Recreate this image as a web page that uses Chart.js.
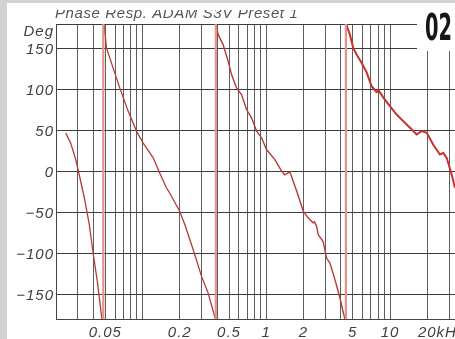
<!DOCTYPE html>
<html>
<head>
<meta charset="utf-8">
<script src="https://cdn.jsdelivr.net/npm/chart.js@4.4.1/dist/chart.umd.min.js"></script>
<style>
  html, body { margin: 0; padding: 0; background: #fff; }
  canvas { display: block; }
</style>
</head>
<body>
<canvas id="phaseChart" width="455" height="339"></canvas>
<script>
// ================= DATA =================
// phase response, kHz vs degrees, one array pair per wrapped branch
const seg1Freq  = [0.0240, 0.0263, 0.0289, 0.0304, 0.0337, 0.0370, 0.0399, 0.0433, 0.0470];
const seg1Phase = [46.8, 34.6, 14.3, 0, -30.5, -62.9, -99.5, -136, -180];

const seg2Freq  = [0.0488, 0.0512, 0.0578, 0.0655, 0.0765, 0.0894, 0.101, 0.122, 0.138, 0.156, 0.166, 0.200, 0.220, 0.257, 0.300, 0.339, 0.388];
const seg2Phase = [180, 150.9, 126.5, 102.1, 73.7, 49.3, 35, 16.7, -2, -19.9, -26.3, -48.8, -65, -95.5, -128, -148.3, -180];

const seg3Freq  = [0.391, 0.409, 0.448, 0.492, 0.524, 0.575, 0.631, 0.693, 0.760, 0.835, 0.916, 1.005, 1.174, 1.33, 1.41, 1.55, 1.76, 1.99, 2.18, 2.39, 2.45, 2.55, 2.63, 2.88, 3.07, 3.27, 3.59, 3.94, 4.14, 4.32];
const seg3Phase = [180, 167, 154.9, 134.6, 118.3, 102, 93.9, 75.6, 65.5, 49.3, 41.1, 26.8, 14.6, 0.5, -4, -0.4, -23.9, -48.3, -56.5, -62.6, -61.5, -66.6, -77.2, -85.4, -105.6, -111.7, -132, -154.4, -168.7, -180];

const seg4Freq  = [4.42, 4.74, 5.04, 5.37, 5.89, 6.47, 7.10, 7.79, 8.10, 8.81, 9.98, 11.3, 12.8, 14.5, 16.4, 18.0, 19.8, 22.3, 25.3, 26.9, 28.7, 31.5, 33.5];
const seg4Phase = [180, 167, 150.9, 142.7, 132.6, 121, 104, 97, 99, 90.5, 79.8, 69.5, 61.5, 53.3, 45.1, 49.3, 47.2, 32.9, 20.7, 22.8, 16.7, -3.7, -19.9];

// frequencies where the phase wraps from -180 to +180
const wrapFreqs = [0.0482, 0.3914, 4.40];

// axis ticks
const xGrid = [0.02, 0.03, 0.04, 0.05, 0.06, 0.07, 0.08, 0.09,
               0.1, 0.2, 0.3, 0.4, 0.5, 0.6, 0.7, 0.8, 0.9,
               1, 2, 3, 4, 5, 6, 7, 8, 9, 10, 20, 30];
const xLabelVals = [0.05, 0.2, 0.5, 1, 2, 5, 10, 20];
const xLabelText = ['0.05', '0.2', '0.5', '1', '2', '5', '10', '20kHz'];
const yGrid = [-180, -150, -100, -50, 0, 50, 100, 150, 180];
const yLabelVals = [150, 100, 50, 0, -50, -100, -150];

const titleText = 'Phase Resp. ADAM S3V Preset 1';
const badgeText = '02';

// ================= HELPERS =================
const toPoints = (fs, ps) => fs.map((f, i) => ({ x: f, y: ps[i] }));

const curveColor = '#b63c33';
const wrapColor = '#e7918a';

const datasets = [];
wrapFreqs.forEach(f => {
    datasets.push({
        data: [{ x: f, y: -180 }, { x: f, y: 180 }],
        borderColor: wrapColor, borderWidth: 2.2
    });
});
datasets.push({ data: toPoints(seg1Freq, seg1Phase), borderColor: curveColor, borderWidth: 1.3 });
datasets.push({ data: toPoints(seg2Freq, seg2Phase), borderColor: curveColor, borderWidth: 1.3 });
datasets.push({ data: toPoints(seg3Freq, seg3Phase), borderColor: curveColor, borderWidth: 1.4 });
datasets.push({ data: toPoints(seg4Freq, seg4Phase), borderColor: '#c8322b', borderWidth: 2 });

const labelFont = 'italic 15px "Liberation Sans", Arial, sans-serif';

const decorPlugin = {
    id: 'decor',
    beforeDraw(chart) {
        const ctx = chart.ctx;
        ctx.save();
        ctx.fillStyle = '#ffffff';
        ctx.fillRect(0, 0, chart.width, chart.height);
        ctx.restore();
    },
    afterDraw(chart) {
        const ctx = chart.ctx;
        const xs = chart.scales.x, ys = chart.scales.y;
        ctx.save();
        ctx.fillStyle = '#3f3f3f';
        ctx.font = labelFont;
        ctx.letterSpacing = '1px';

        // y labels
        ctx.textAlign = 'right';
        ctx.textBaseline = 'middle';
        yLabelVals.forEach(v => {
            const t = String(v).replace('-', '\u2212');
            ctx.fillText(t, 54, ys.getPixelForValue(v) + 1.5);
        });
        ctx.fillText('Deg', 54, 32);

        // x labels
        ctx.textBaseline = 'alphabetic';
        xLabelVals.forEach((v, i) => {
            const px = xs.getPixelForValue(v);
            const t = xLabelText[i];
            if (t.endsWith('kHz')) {
                const w = ctx.measureText('20').width;
                ctx.textAlign = 'left';
                ctx.fillText(t, px - w / 2, 337);
            } else {
                ctx.textAlign = 'center';
                ctx.fillText(t, px, 337);
            }
        });

        // title, top part cut away
        ctx.textAlign = 'left';
        ctx.letterSpacing = '0.6px';
        ctx.fillStyle = '#555';
        ctx.fillText(titleText, 55, 18);
        ctx.fillStyle = '#ffffff';
        ctx.fillRect(0, 0, chart.width, 10);

        // badge box
        ctx.fillRect(417, 3, 38, 48);
        ctx.fillStyle = '#161616';
        ctx.letterSpacing = '0px';
        ctx.font = 'bold 37px "Liberation Sans Narrow", "DejaVu Sans Condensed", sans-serif';
        ctx.textBaseline = 'alphabetic';
        ctx.textAlign = 'left';
        const bw = ctx.measureText(badgeText).width;
        ctx.save();
        ctx.translate(425, 40);
        ctx.scale(27 / bw, 1);
        ctx.fillText(badgeText, 0, 0);
        ctx.restore();

        // grey frame strips
        ctx.fillStyle = '#d3d3d3';
        ctx.fillRect(0, 0, chart.width, 3);
        ctx.fillRect(0, 0, 7, chart.height);
        ctx.restore();
    }
};

new Chart(document.getElementById('phaseChart'), {
    type: 'scatter',
    data: { datasets: datasets },
    options: {
        responsive: false,
        animation: false,
        devicePixelRatio: 1,
        layout: { padding: { left: 56, top: 24, right: 0, bottom: 20 } },
        showLine: true,
        elements: {
            point: { radius: 0, hoverRadius: 0 },
            line: { tension: 0, fill: false }
        },
        plugins: { legend: { display: false }, tooltip: { enabled: false }, title: { display: false } },
        scales: {
            x: {
                type: 'logarithmic',
                min: 0.02,
                max: 33.5,
                afterBuildTicks: axis => { axis.ticks = xGrid.map(v => ({ value: v })); },
                ticks: { display: false },
                grid: { color: '#5e5e5e', lineWidth: 1, drawTicks: false },
                border: { color: '#444', width: 1 }
            },
            y: {
                type: 'linear',
                min: -180,
                max: 180,
                afterBuildTicks: axis => { axis.ticks = yGrid.map(v => ({ value: v })); },
                ticks: { display: false },
                grid: { color: '#3c3c3c', lineWidth: 1, drawTicks: false },
                border: { color: '#444', width: 1 }
            }
        }
    },
    plugins: [decorPlugin]
});
</script>
</body>
</html>
